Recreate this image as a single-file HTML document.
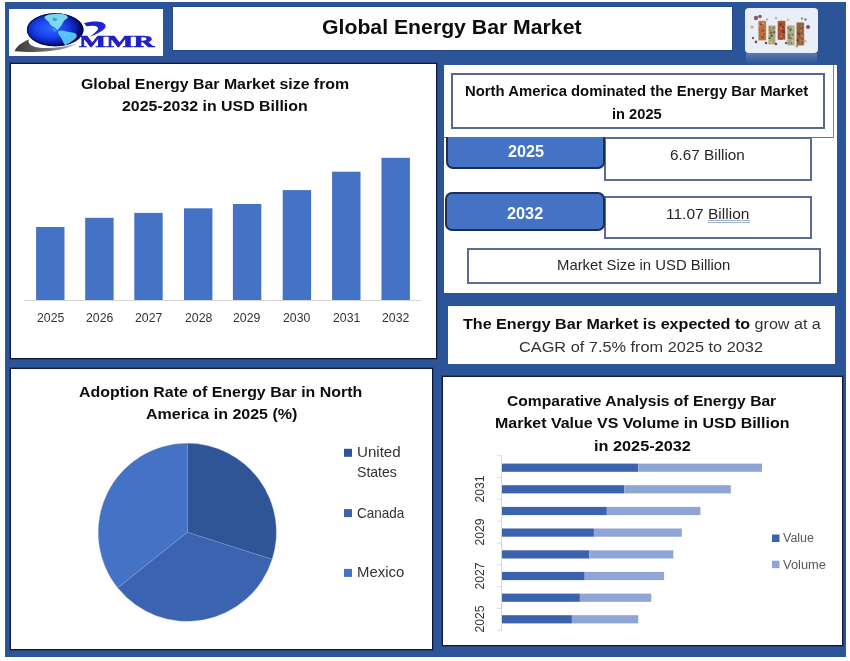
<!DOCTYPE html>
<html><head><meta charset="utf-8"><style>
html,body{margin:0;padding:0;background:#fff;}
body{width:850px;height:661px;position:relative;overflow:hidden;filter:blur(0.3px);}
.b{position:absolute;}
.t{position:absolute;white-space:nowrap;line-height:1;transform-origin:0 0;}
.s{position:absolute;left:0;top:0;}
</style></head><body>
<div class="b" style="left:5px;top:2px;width:841px;height:655px;background:#2C5599"></div>
<div class="b" style="left:9px;top:9px;width:154px;height:47px;background:#fff"></div>
<div class="b" style="left:173px;top:7px;width:559px;height:43px;background:#fff;box-shadow:0 0 0 1px rgba(30,45,90,0.3)"></div>
<div class="b" style="left:745px;top:8px;width:73px;height:45px;background:#eaeef6;border-radius:4px"></div>
<div class="b" style="left:746px;top:53px;width:71px;height:10px;background:linear-gradient(rgba(255,255,255,0.22),rgba(255,255,255,0.02))"></div>
<svg class="s" width="850" height="661" viewBox="0 0 850 661">
<defs>
<radialGradient id="gl" cx="0.42" cy="0.45" r="0.62">
<stop offset="0" stop-color="#2c66ff"/><stop offset="0.42" stop-color="#1a44f0"/><stop offset="0.7" stop-color="#0c22b0"/><stop offset="0.86" stop-color="#040a66"/><stop offset="1" stop-color="#010228"/>
</radialGradient>
<linearGradient id="sw" x1="0" y1="0" x2="1" y2="0">
<stop offset="0" stop-color="#3a3a3a"/><stop offset="0.5" stop-color="#6a6a6a"/><stop offset="1" stop-color="#b8b8c8"/>
</linearGradient>
<linearGradient id="hk" x1="0" y1="0" x2="1" y2="1">
<stop offset="0" stop-color="#1a1acf"/><stop offset="1" stop-color="#2a2ae0"/>
</linearGradient>
</defs>
<path d="M14.5,51.2 C17,46 22,42 29,39.5 C27.5,43 30,46.5 40,47.8 C52,48.8 66,46.5 77,43.5 C66,50 46,53.5 14.5,51.2 Z" fill="url(#sw)"/>
<ellipse cx="55.2" cy="29.8" rx="28.3" ry="16.5" fill="url(#gl)"/>
<ellipse cx="55.2" cy="29.8" rx="27.7" ry="15.9" fill="none" stroke="#02084a" stroke-width="1.3" opacity="0.85"/>
<path d="M44.5,16.5 C47,14.5 52,13.8 56,14 C58,13.5 61,13.6 63.5,14.3 C66.5,15 68.5,16.5 67.5,18.2 C66,19.5 64.5,20 63.5,21.5 C62.5,23.2 62,24.8 60.8,26.2 C59.6,27.5 58.4,28.8 57.2,30.2 C56.2,29.3 55.6,28.4 54.6,27.6 C53.4,26.8 52,26.6 51,25.6 C49.8,24.4 49.6,23 48.6,21.8 C47.4,20.4 45.6,19.6 45,18.4 Z" fill="#7fe2ee" opacity="0.95"/>
<path d="M52.5,18 C54.5,17.2 56.5,18 57.5,19.5 C56.5,21 54.5,21.5 53,20.8 Z" fill="#2a60d0" opacity="0.55"/>
<path d="M58,31.2 C61,30.2 64,30.6 66.5,31.5 C69.5,32 72.5,32.4 75.5,33.6 C77.5,35 77,37.2 75,39 C72.5,41.2 69.5,43 66.8,44.6 C65,45.4 64,44.4 63.4,42.6 C62.6,40.2 61.6,38.2 60.2,36.4 C58.8,34.8 57.8,33 58,31.2 Z" fill="#62d2ff" opacity="0.9"/>
<path d="M52,28 C55,27.5 57,29.5 56.5,31.5 C55,33 52.5,31.5 52,28 Z" fill="#3f9cff" opacity="0.6"/>
<path d="M84,23.3 C92,20.5 103.5,20.8 105.5,25 C107,29.5 98,33.5 90,36.8 C95,32.5 99.5,29.5 97.5,27.2 C95.5,25.3 90,25.5 86.5,26.3 Z" fill="url(#hk)"/>
</svg>
<svg class="s" width="850" height="661" viewBox="0 0 850 661">
<rect x="758.3" y="20.8" width="7.9" height="19.8" rx="1.2" fill="#b4703f" stroke="#f4e8e0" stroke-width="0.6" stroke-opacity="0.6"/>
<circle cx="761.2" cy="24.5" r="1.0" fill="#8a4a2a" opacity="0.75"/>
<circle cx="764.1" cy="23.5" r="1.0" fill="#d49a60" opacity="0.75"/>
<circle cx="759.5" cy="29.5" r="0.6" fill="#8a4a2a" opacity="0.75"/>
<circle cx="762.6" cy="22.9" r="1.0" fill="#d49a60" opacity="0.75"/>
<circle cx="763.0" cy="32.2" r="0.5" fill="#c88050" opacity="0.75"/>
<circle cx="759.6" cy="25.7" r="0.9" fill="#d49a60" opacity="0.75"/>
<circle cx="761.0" cy="24.4" r="0.6" fill="#6a3020" opacity="0.75"/>
<circle cx="762.6" cy="33.9" r="0.6" fill="#d49a60" opacity="0.75"/>
<circle cx="761.5" cy="31.5" r="0.6" fill="#8a4a2a" opacity="0.75"/>
<circle cx="763.0" cy="30.6" r="0.9" fill="#6a3020" opacity="0.75"/>
<circle cx="762.0" cy="38.2" r="0.8" fill="#d49a60" opacity="0.75"/>
<circle cx="764.0" cy="34.2" r="0.7" fill="#6a3020" opacity="0.75"/>
<circle cx="762.4" cy="37.4" r="1.1" fill="#6a3020" opacity="0.75"/>
<circle cx="762.9" cy="23.1" r="0.9" fill="#d49a60" opacity="0.75"/>
<rect x="768.2" y="25.2" width="7.4" height="19.3" rx="1.2" fill="#b0a67a" stroke="#f4e8e0" stroke-width="0.6" stroke-opacity="0.6"/>
<circle cx="773.3" cy="28.8" r="0.9" fill="#5a5a3a" opacity="0.75"/>
<circle cx="774.4" cy="27.5" r="0.9" fill="#7a6a40" opacity="0.75"/>
<circle cx="771.0" cy="32.3" r="0.9" fill="#3a3a2a" opacity="0.75"/>
<circle cx="769.6" cy="27.8" r="0.7" fill="#5a5a3a" opacity="0.75"/>
<circle cx="769.5" cy="38.3" r="1.0" fill="#3a3a2a" opacity="0.75"/>
<circle cx="770.7" cy="32.9" r="1.0" fill="#5a5a3a" opacity="0.75"/>
<circle cx="774.3" cy="32.3" r="1.0" fill="#3a3a2a" opacity="0.75"/>
<circle cx="769.5" cy="39.5" r="0.6" fill="#d8ceaa" opacity="0.75"/>
<circle cx="771.3" cy="42.1" r="0.9" fill="#d8ceaa" opacity="0.75"/>
<circle cx="771.6" cy="35.7" r="1.2" fill="#3a3a2a" opacity="0.75"/>
<circle cx="773.9" cy="31.0" r="0.8" fill="#7a6a40" opacity="0.75"/>
<circle cx="772.9" cy="32.8" r="0.7" fill="#5a5a3a" opacity="0.75"/>
<circle cx="770.2" cy="30.2" r="0.7" fill="#3a3a2a" opacity="0.75"/>
<circle cx="773.7" cy="29.4" r="0.7" fill="#d8ceaa" opacity="0.75"/>
<rect x="777.5" y="20.8" width="8.0" height="19.2" rx="1.2" fill="#a4502e" stroke="#f4e8e0" stroke-width="0.6" stroke-opacity="0.6"/>
<circle cx="781.0" cy="28.2" r="1.0" fill="#c87050" opacity="0.75"/>
<circle cx="782.6" cy="30.7" r="1.0" fill="#7a2a1a" opacity="0.75"/>
<circle cx="781.2" cy="36.8" r="1.3" fill="#d09070" opacity="0.75"/>
<circle cx="780.9" cy="28.6" r="0.9" fill="#d09070" opacity="0.75"/>
<circle cx="778.9" cy="23.0" r="0.7" fill="#c87050" opacity="0.75"/>
<circle cx="779.2" cy="32.1" r="0.6" fill="#c87050" opacity="0.75"/>
<circle cx="781.7" cy="38.1" r="1.0" fill="#7a2a1a" opacity="0.75"/>
<circle cx="783.7" cy="32.4" r="0.6" fill="#5a2018" opacity="0.75"/>
<circle cx="784.2" cy="32.2" r="0.9" fill="#7a2a1a" opacity="0.75"/>
<circle cx="783.6" cy="38.9" r="0.9" fill="#d09070" opacity="0.75"/>
<circle cx="780.4" cy="24.3" r="1.1" fill="#5a2018" opacity="0.75"/>
<circle cx="781.4" cy="33.7" r="0.9" fill="#c87050" opacity="0.75"/>
<circle cx="784.2" cy="30.9" r="0.6" fill="#7a2a1a" opacity="0.75"/>
<circle cx="783.0" cy="26.9" r="1.0" fill="#7a2a1a" opacity="0.75"/>
<rect x="787" y="25.2" width="7.8" height="20.3" rx="1.2" fill="#a8aa80" stroke="#f4e8e0" stroke-width="0.6" stroke-opacity="0.6"/>
<circle cx="792.0" cy="31.0" r="0.8" fill="#d0d0b0" opacity="0.75"/>
<circle cx="790.1" cy="30.3" r="0.9" fill="#404a30" opacity="0.75"/>
<circle cx="791.7" cy="37.4" r="1.1" fill="#d0d0b0" opacity="0.75"/>
<circle cx="792.7" cy="41.2" r="1.1" fill="#d0d0b0" opacity="0.75"/>
<circle cx="789.2" cy="35.2" r="1.1" fill="#5a6a3a" opacity="0.75"/>
<circle cx="792.6" cy="34.8" r="0.7" fill="#404a30" opacity="0.75"/>
<circle cx="790.6" cy="43.3" r="1.3" fill="#404a30" opacity="0.75"/>
<circle cx="788.5" cy="28.1" r="0.9" fill="#404a30" opacity="0.75"/>
<circle cx="789.2" cy="37.6" r="1.2" fill="#5a6a3a" opacity="0.75"/>
<circle cx="790.8" cy="38.1" r="1.1" fill="#5a6a3a" opacity="0.75"/>
<circle cx="792.8" cy="28.4" r="0.8" fill="#d0d0b0" opacity="0.75"/>
<circle cx="790.8" cy="29.5" r="1.1" fill="#404a30" opacity="0.75"/>
<circle cx="788.5" cy="43.5" r="1.1" fill="#8a9a60" opacity="0.75"/>
<circle cx="790.3" cy="43.5" r="1.1" fill="#d0d0b0" opacity="0.75"/>
<rect x="796.3" y="22.3" width="7.9" height="23.2" rx="1.2" fill="#946040" stroke="#f4e8e0" stroke-width="0.6" stroke-opacity="0.6"/>
<circle cx="803.2" cy="23.9" r="1.0" fill="#b07848" opacity="0.75"/>
<circle cx="802.1" cy="26.4" r="1.2" fill="#b07848" opacity="0.75"/>
<circle cx="801.2" cy="30.7" r="0.9" fill="#c89060" opacity="0.75"/>
<circle cx="797.4" cy="40.2" r="1.1" fill="#5a3420" opacity="0.75"/>
<circle cx="800.4" cy="43.1" r="0.8" fill="#c89060" opacity="0.75"/>
<circle cx="802.2" cy="27.8" r="0.7" fill="#3a2418" opacity="0.75"/>
<circle cx="800.3" cy="39.5" r="0.8" fill="#b07848" opacity="0.75"/>
<circle cx="802.2" cy="24.6" r="1.1" fill="#b07848" opacity="0.75"/>
<circle cx="801.2" cy="40.6" r="0.9" fill="#c89060" opacity="0.75"/>
<circle cx="800.4" cy="34.4" r="0.5" fill="#b07848" opacity="0.75"/>
<circle cx="801.9" cy="36.2" r="1.1" fill="#c89060" opacity="0.75"/>
<circle cx="798.3" cy="33.3" r="1.1" fill="#5a3420" opacity="0.75"/>
<circle cx="799.2" cy="34.3" r="0.9" fill="#5a3420" opacity="0.75"/>
<circle cx="802.5" cy="24.5" r="0.7" fill="#5a3420" opacity="0.75"/>
<circle cx="756" cy="18" r="2.2" fill="#7a4050" opacity="0.85"/>
<circle cx="760" cy="16.5" r="1.8" fill="#803a48" opacity="0.85"/>
<circle cx="767" cy="19.5" r="1.3" fill="#b8a890" opacity="0.85"/>
<circle cx="776" cy="18" r="1.2" fill="#c0a888" opacity="0.85"/>
<circle cx="788" cy="20" r="1.3" fill="#c8b898" opacity="0.85"/>
<circle cx="802" cy="18.5" r="1.2" fill="#6a8a70" opacity="0.85"/>
<circle cx="805.5" cy="19.5" r="1.2" fill="#5a7a68" opacity="0.85"/>
<circle cx="808" cy="27" r="2" fill="#6a3050" opacity="0.85"/>
<circle cx="752" cy="27" r="1.6" fill="#b0a080" opacity="0.85"/>
<circle cx="753" cy="38" r="1.2" fill="#604050" opacity="0.85"/>
<circle cx="756" cy="42" r="1.4" fill="#604050" opacity="0.85"/>
<circle cx="766" cy="43" r="1.3" fill="#503040" opacity="0.85"/>
<circle cx="776" cy="44" r="1.3" fill="#503048" opacity="0.85"/>
<circle cx="786" cy="43" r="1.2" fill="#604050" opacity="0.85"/>
<circle cx="797" cy="46" r="1.5" fill="#a09070" opacity="0.85"/>
<circle cx="805" cy="41" r="1.6" fill="#c0b090" opacity="0.85"/>
</svg>
<div class="t" style="left:79.00px;top:33.34px;font-size:17.50px;font-family:'Liberation Serif', serif;font-weight:700;color:#2020c4;transform:scaleX(1.6473);-webkit-text-stroke:0.6px #2020c4;">MMR</div>
<div class="b" style="left:10px;top:63px;width:427px;height:296px;background:#fff;border:1px solid #101a38;box-sizing:border-box;box-shadow:0 0 0 0.6px rgba(16,26,56,.6)"></div>
<div class="b" style="left:444px;top:65px;width:393px;height:228px;background:#fff"></div>
<div class="b" style="left:444px;top:65px;width:390px;height:73px;border-right:1px solid #7a8499;border-bottom:1px solid #6a7490;box-sizing:border-box"></div>
<div class="b" style="left:451px;top:73px;width:374px;height:56px;border:2px solid #56688c;box-sizing:border-box"></div>
<div class="b" style="left:448px;top:306px;width:387px;height:58px;background:#fff"></div>
<div class="b" style="left:10px;top:368px;width:423px;height:282px;background:#fff;border:1px solid #101a38;box-sizing:border-box;box-shadow:0 0 0 0.6px rgba(16,26,56,.6)"></div>
<div class="b" style="left:442px;top:376px;width:401px;height:270px;background:#fff;border:1px solid #101a38;box-sizing:border-box;box-shadow:0 0 0 0.6px rgba(16,26,56,.6)"></div>
<div class="b" style="left:604px;top:137px;width:208px;height:44px;border:2px solid #5b6d92;box-sizing:border-box;background:#fff"></div>
<div class="b" style="left:604px;top:196px;width:208px;height:43px;border:2px solid #5b6d92;box-sizing:border-box;background:#fff"></div>
<div class="b" style="left:467px;top:248px;width:354px;height:36px;border:2px solid #5b6d92;box-sizing:border-box;background:#fff"></div>
<div class="b" style="left:445.5px;top:137px;width:159.0px;height:31.5px;background:#4472C4;border:2px solid #1c2f5c;border-top:none;border-radius:0 0 7px 7px;box-sizing:border-box"></div>
<div class="b" style="left:445px;top:192px;width:159.5px;height:38.5px;background:#4472C4;border:2px solid #1c2f5c;border-radius:7px;box-sizing:border-box"></div>
<div class="t" style="left:322.00px;top:16.69px;font-size:20.80px;font-family:'Liberation Sans', sans-serif;font-weight:700;color:#0d0d0d;transform:scaleX(1.0208);">Global Energy Bar Market</div>
<div class="t" style="left:81.20px;top:75.65px;font-size:15.30px;font-family:'Liberation Sans', sans-serif;font-weight:700;color:#0d0d0d;transform:scaleX(1.0376);">Global Energy Bar Market size from</div>
<div class="t" style="left:122.30px;top:97.85px;font-size:15.30px;font-family:'Liberation Sans', sans-serif;font-weight:700;color:#0d0d0d;transform:scaleX(1.0399);">2025-2032 in USD Billion</div>
<div class="t" style="left:465.40px;top:84.16px;font-size:14.10px;font-family:'Liberation Sans', sans-serif;font-weight:700;color:#0d0d0d;transform:scaleX(1.0549);">North America dominated the Energy Bar Market</div>
<div class="t" style="left:612.10px;top:106.56px;font-size:14.10px;font-family:'Liberation Sans', sans-serif;font-weight:700;color:#0d0d0d;transform:scaleX(1.0395);">in 2025</div>
<div class="t" style="left:507.80px;top:142.97px;font-size:17.40px;font-family:'Liberation Sans', sans-serif;font-weight:700;color:#fff;transform:scaleX(0.9325);">2025</div>
<div class="t" style="left:507.10px;top:205.07px;font-size:17.40px;font-family:'Liberation Sans', sans-serif;font-weight:700;color:#fff;transform:scaleX(0.9350);">2032</div>
<div class="t" style="left:670.40px;top:146.93px;font-size:15.20px;font-family:'Liberation Sans', sans-serif;font-weight:400;color:#262626;transform:scaleX(1.0073);">6.67 Billion</div>
<div class="t" style="left:666.40px;top:206.03px;font-size:15.20px;font-family:'Liberation Sans', sans-serif;font-weight:400;color:#262626;transform:scaleX(1.0222);">11.07 Billion</div>
<div class="b" style="left:708px;top:220px;width:42px;height:1px;background:#9fb0c8"></div>
<div class="b" style="left:708px;top:222px;width:42px;height:1px;background:#9fb0c8"></div>
<div class="t" style="left:556.90px;top:258.01px;font-size:14.40px;font-family:'Liberation Sans', sans-serif;font-weight:400;color:#262626;transform:scaleX(1.0324);">Market Size in USD Billion</div>
<div class="t" style="left:462.80px;top:315.68px;font-size:15.50px;font-family:'Liberation Sans', sans-serif;transform:scaleX(1.0383);white-space:pre;"><span style="font-weight:700;color:#0d0d0d">The&#32;Energy&#32;Bar&#32;Market&#32;is&#32;expected&#32;to</span><span style="font-weight:400;color:#333">&#32;grow&#32;at&#32;a</span></div>
<div class="t" style="left:519.40px;top:339.28px;font-size:15.50px;font-family:'Liberation Sans', sans-serif;font-weight:400;color:#333;transform:scaleX(1.0528);">CAGR of 7.5% from 2025 to 2032</div>
<div class="t" style="left:79.40px;top:384.08px;font-size:15.50px;font-family:'Liberation Sans', sans-serif;font-weight:700;color:#0d0d0d;transform:scaleX(1.0277);">Adoption Rate of Energy Bar in North</div>
<div class="t" style="left:145.60px;top:406.28px;font-size:15.50px;font-family:'Liberation Sans', sans-serif;font-weight:700;color:#0d0d0d;transform:scaleX(1.0337);">America in 2025 (%)</div>
<div class="t" style="left:507.30px;top:392.65px;font-size:15.30px;font-family:'Liberation Sans', sans-serif;font-weight:700;color:#0d0d0d;transform:scaleX(1.0202);">Comparative Analysis of Energy Bar</div>
<div class="t" style="left:495.10px;top:414.95px;font-size:15.30px;font-family:'Liberation Sans', sans-serif;font-weight:700;color:#0d0d0d;transform:scaleX(1.0444);">Market Value VS Volume in USD Billion</div>
<div class="t" style="left:593.90px;top:437.75px;font-size:15.30px;font-family:'Liberation Sans', sans-serif;font-weight:700;color:#0d0d0d;transform:scaleX(1.0646);">in 2025-2032</div>
<svg class="s" width="850" height="661" viewBox="0 0 850 661">
<line x1="24" y1="300.5" x2="422" y2="300.5" stroke="#d9d9d9" stroke-width="1"/>
<rect x="36.1" y="227" width="28.4" height="73" fill="#4472C4"/>
<rect x="85.2" y="217.8" width="28.4" height="82.19999999999999" fill="#4472C4"/>
<rect x="134.3" y="212.9" width="28.4" height="87.1" fill="#4472C4"/>
<rect x="184" y="208.3" width="28.4" height="91.69999999999999" fill="#4472C4"/>
<rect x="232.9" y="204" width="28.4" height="96" fill="#4472C4"/>
<rect x="282.7" y="190.1" width="28.4" height="109.9" fill="#4472C4"/>
<rect x="332.1" y="171.7" width="28.4" height="128.3" fill="#4472C4"/>
<rect x="381.5" y="157.8" width="28.4" height="142.2" fill="#4472C4"/>
<path d="M187.3,532.3 L187.30,443.30 A89,89 0 0 1 272.09,559.36 Z" fill="#2F5597" stroke="#8aa4e0" stroke-width="0.7" stroke-opacity="0.5"/>
<path d="M187.3,532.3 L272.09,559.36 A89,89 0 0 1 117.74,587.83 Z" fill="#3B63AF" stroke="#8aa4e0" stroke-width="0.7" stroke-opacity="0.5"/>
<path d="M187.3,532.3 L117.74,587.83 A89,89 0 0 1 187.30,443.30 Z" fill="#4472C4" stroke="#8aa4e0" stroke-width="0.7" stroke-opacity="0.5"/>
<rect x="344" y="448.8" width="8" height="8" fill="#2F5597"/>
<rect x="344" y="509.1" width="8" height="8" fill="#3B63AF"/>
<rect x="344" y="568.9" width="8" height="8" fill="#4472C4"/>
<rect x="502" y="463.6" width="136.2" height="8.2" fill="#3A62AD"/>
<rect x="638.2" y="463.6" width="123.8" height="8.2" fill="#8FA5D6"/>
<rect x="502" y="485.2" width="122.3" height="8.2" fill="#3A62AD"/>
<rect x="624.3" y="485.2" width="106.5" height="8.2" fill="#8FA5D6"/>
<rect x="502" y="506.9" width="104.8" height="8.2" fill="#3A62AD"/>
<rect x="606.8" y="506.9" width="93.6" height="8.2" fill="#8FA5D6"/>
<rect x="502" y="528.5" width="91.9" height="8.2" fill="#3A62AD"/>
<rect x="593.9" y="528.5" width="87.9" height="8.2" fill="#8FA5D6"/>
<rect x="502" y="550.3" width="87.2" height="8.2" fill="#3A62AD"/>
<rect x="589.2" y="550.3" width="84.2" height="8.2" fill="#8FA5D6"/>
<rect x="502" y="571.9" width="82.7" height="8.2" fill="#3A62AD"/>
<rect x="584.7" y="571.9" width="79.4" height="8.2" fill="#8FA5D6"/>
<rect x="502" y="593.6" width="77.9" height="8.2" fill="#3A62AD"/>
<rect x="579.9" y="593.6" width="71.4" height="8.2" fill="#8FA5D6"/>
<rect x="502" y="615.2" width="69.9" height="8.2" fill="#3A62AD"/>
<rect x="571.9" y="615.2" width="66.4" height="8.2" fill="#8FA5D6"/>
<line x1="501.5" y1="455.7" x2="501.5" y2="630.5" stroke="#d9d9d9" stroke-width="1"/>
<line x1="497" y1="455.7" x2="501.5" y2="455.7" stroke="#d9d9d9" stroke-width="1"/>
<line x1="497" y1="477.5" x2="501.5" y2="477.5" stroke="#d9d9d9" stroke-width="1"/>
<line x1="497" y1="499.3" x2="501.5" y2="499.3" stroke="#d9d9d9" stroke-width="1"/>
<line x1="497" y1="521.2" x2="501.5" y2="521.2" stroke="#d9d9d9" stroke-width="1"/>
<line x1="497" y1="543.0" x2="501.5" y2="543.0" stroke="#d9d9d9" stroke-width="1"/>
<line x1="497" y1="564.8" x2="501.5" y2="564.8" stroke="#d9d9d9" stroke-width="1"/>
<line x1="497" y1="586.6" x2="501.5" y2="586.6" stroke="#d9d9d9" stroke-width="1"/>
<line x1="497" y1="608.4" x2="501.5" y2="608.4" stroke="#d9d9d9" stroke-width="1"/>
<line x1="497" y1="630.3" x2="501.5" y2="630.3" stroke="#d9d9d9" stroke-width="1"/>
<rect x="772" y="534.5" width="7.5" height="7.5" fill="#3A62AD"/>
<rect x="772" y="560.7" width="7.5" height="7.5" fill="#8FA5D6"/>
</svg>
<div class="t" style="left:36.65px;top:311.73px;font-size:12.60px;font-family:'Liberation Sans', sans-serif;font-weight:400;color:#333;transform:scaleX(0.9738);">2025</div>
<div class="t" style="left:85.75px;top:311.73px;font-size:12.60px;font-family:'Liberation Sans', sans-serif;font-weight:400;color:#333;transform:scaleX(0.9738);">2026</div>
<div class="t" style="left:134.85px;top:311.73px;font-size:12.60px;font-family:'Liberation Sans', sans-serif;font-weight:400;color:#333;transform:scaleX(0.9738);">2027</div>
<div class="t" style="left:184.55px;top:311.73px;font-size:12.60px;font-family:'Liberation Sans', sans-serif;font-weight:400;color:#333;transform:scaleX(0.9738);">2028</div>
<div class="t" style="left:233.45px;top:311.73px;font-size:12.60px;font-family:'Liberation Sans', sans-serif;font-weight:400;color:#333;transform:scaleX(0.9738);">2029</div>
<div class="t" style="left:283.25px;top:311.73px;font-size:12.60px;font-family:'Liberation Sans', sans-serif;font-weight:400;color:#333;transform:scaleX(0.9738);">2030</div>
<div class="t" style="left:332.65px;top:311.73px;font-size:12.60px;font-family:'Liberation Sans', sans-serif;font-weight:400;color:#333;transform:scaleX(0.9738);">2031</div>
<div class="t" style="left:382.05px;top:311.73px;font-size:12.60px;font-family:'Liberation Sans', sans-serif;font-weight:400;color:#333;transform:scaleX(0.9738);">2032</div>
<div class="t" style="left:356.70px;top:445.34px;font-size:14.60px;font-family:'Liberation Sans', sans-serif;font-weight:400;color:#333333;transform:scaleX(1.0353);">United</div>
<div class="t" style="left:356.70px;top:465.14px;font-size:14.60px;font-family:'Liberation Sans', sans-serif;font-weight:400;color:#333333;transform:scaleX(0.9640);">States</div>
<div class="t" style="left:356.70px;top:505.54px;font-size:14.60px;font-family:'Liberation Sans', sans-serif;font-weight:400;color:#333333;transform:scaleX(0.9246);">Canada</div>
<div class="t" style="left:356.70px;top:565.34px;font-size:14.60px;font-family:'Liberation Sans', sans-serif;font-weight:400;color:#333333;transform:scaleX(1.0226);">Mexico</div>
<div class="t" style="left:782.70px;top:531.74px;font-size:12.00px;font-family:'Liberation Sans', sans-serif;font-weight:400;color:#595959;transform:scaleX(1.0371);">Value</div>
<div class="t" style="left:782.70px;top:558.54px;font-size:12.00px;font-family:'Liberation Sans', sans-serif;font-weight:400;color:#595959;transform:scaleX(1.0745);">Volume</div>
<div class="t" style="left:440px;top:478.8px;width:80px;height:20px;line-height:20px;text-align:center;font-size:12.5px;font-family:'Liberation Sans',sans-serif;color:#333;transform:rotate(-90deg) scaleX(0.971);transform-origin:50% 50%">2031</div>
<div class="t" style="left:440px;top:521.9px;width:80px;height:20px;line-height:20px;text-align:center;font-size:12.5px;font-family:'Liberation Sans',sans-serif;color:#333;transform:rotate(-90deg) scaleX(0.971);transform-origin:50% 50%">2029</div>
<div class="t" style="left:440px;top:565.7px;width:80px;height:20px;line-height:20px;text-align:center;font-size:12.5px;font-family:'Liberation Sans',sans-serif;color:#333;transform:rotate(-90deg) scaleX(0.971);transform-origin:50% 50%">2027</div>
<div class="t" style="left:440px;top:608.9px;width:80px;height:20px;line-height:20px;text-align:center;font-size:12.5px;font-family:'Liberation Sans',sans-serif;color:#333;transform:rotate(-90deg) scaleX(0.971);transform-origin:50% 50%">2025</div>
</body></html>
